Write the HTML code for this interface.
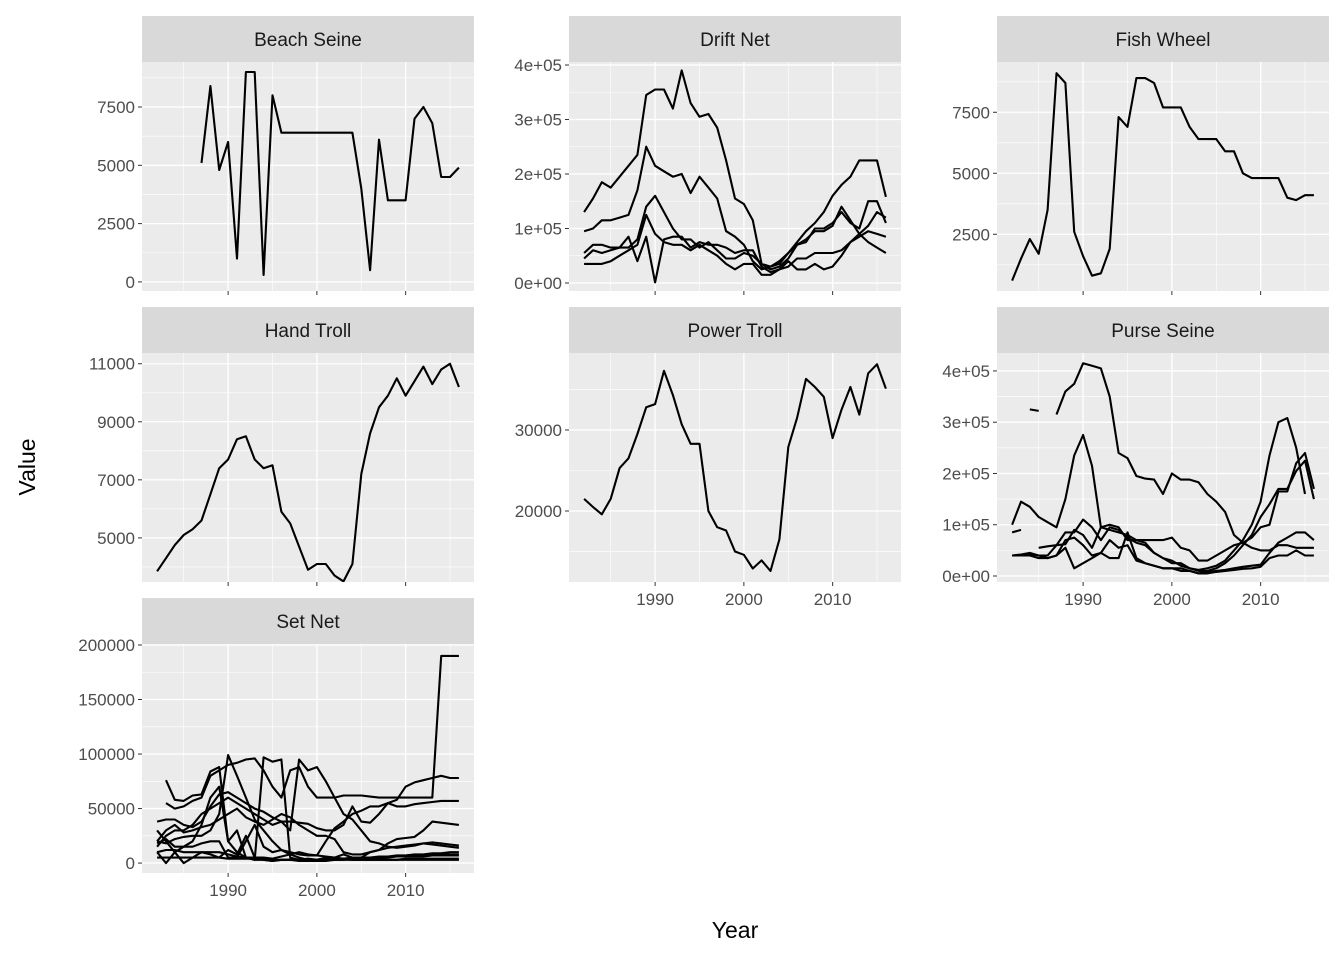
<!DOCTYPE html>
<html><head><meta charset="utf-8"><style>
html,body{margin:0;padding:0;background:#fff;}
svg{display:block;font-family:"Liberation Sans",Arial,sans-serif;}
</style></head><body>
<svg id="chart" width="1344" height="960" viewBox="0 0 1344 960">
<text x="735" y="938" font-size="23" text-anchor="middle" fill="#000">Year</text>
<text x="35" y="467" font-size="23" text-anchor="middle" fill="#000" transform="rotate(-90 35 467)">Value</text>
</svg>
<script>
const years = [];
for (let y = 1982; y <= 2016; y++) years.push(y);
const N = null;
const xTicks = [1990, 2000, 2010];
const xTickLabels = ["1990", "2000", "2010"];

const beachSeine = [[N,N,N,N,N,5100,8400,4800,6000,1000,9000,9000,300,8000,6400,6400,6400,6400,6400,6400,6400,6400,6400,4000,500,6100,3500,3500,3500,7000,7500,6800,4500,4500,4900]];
const driftNet = [
 [130000,155000,185000,175000,195000,215000,235000,345000,355000,355000,320000,390000,330000,305000,310000,285000,225000,155000,145000,115000,35000,30000,40000,55000,75000,95000,110000,130000,160000,180000,195000,225000,225000,225000,158000],
 [95000,100000,115000,115000,120000,125000,170000,250000,215000,205000,195000,200000,165000,195000,175000,155000,95000,85000,70000,40000,25000,30000,35000,55000,70000,80000,95000,95000,105000,140000,115000,90000,75000,65000,55000],
 [55000,70000,70000,65000,65000,65000,80000,140000,160000,130000,100000,80000,80000,65000,75000,60000,45000,45000,55000,50000,35000,25000,30000,45000,70000,75000,100000,100000,110000,130000,110000,100000,150000,150000,110000],
 [45000,60000,55000,60000,65000,85000,40000,85000,1000,80000,85000,85000,65000,75000,70000,70000,65000,55000,60000,60000,30000,20000,25000,30000,45000,45000,55000,55000,55000,60000,75000,90000,105000,130000,120000],
 [35000,35000,35000,40000,50000,60000,70000,125000,90000,75000,70000,70000,60000,70000,60000,50000,35000,25000,35000,35000,15000,15000,25000,40000,25000,25000,35000,25000,30000,50000,75000,85000,95000,90000,85000]
];
const fishWheel = [[600,1500,2300,1700,3500,9100,8700,2600,1600,800,900,1900,7300,6900,8900,8900,8700,7700,7700,7700,6900,6400,6400,6400,5900,5900,5000,4800,4800,4800,4800,4000,3900,4100,4100]];
const handTroll = [[3850,4300,4750,5100,5300,5600,6500,7400,7700,8400,8500,7700,7400,7500,5900,5500,4700,3900,4100,4100,3700,3500,4100,7200,8600,9500,9900,10500,9900,10400,10900,10300,10800,11000,10200]];
const powerTroll = [[21500,20500,19600,21500,25300,26500,29500,32800,33200,37300,34300,30700,28300,28300,20000,18000,17600,15000,14600,12900,13900,12600,16500,27900,31500,36300,35300,34100,29000,32500,35300,31900,37000,38100,35100]];
const purseSeine = [
 [N,N,325000,322000,N,315000,360000,375000,415000,410000,405000,350000,240000,230000,195000,190000,188000,160000,200000,188000,188000,183000,160000,145000,125000,80000,65000,55000,50000,50000,60000,60000,55000,55000,55000],
 [85000,90000,N,N,N,N,N,N,N,N,N,N,N,N,N,N,N,N,N,N,N,N,N,N,N,N,N,N,N,N,N,N,N,N,N],
 [100000,145000,135000,115000,105000,95000,150000,235000,275000,215000,95000,90000,85000,80000,70000,65000,45000,35000,25000,25000,15000,12000,15000,20000,30000,50000,70000,100000,145000,235000,300000,308000,250000,160000,N],
 [40000,42000,45000,40000,40000,60000,85000,85000,110000,95000,70000,95000,90000,75000,65000,60000,45000,35000,30000,20000,15000,10000,10000,15000,25000,40000,60000,80000,115000,140000,170000,170000,205000,225000,150000],
 [N,N,N,55000,58000,60000,62000,90000,80000,55000,95000,100000,95000,70000,70000,70000,70000,70000,75000,55000,50000,30000,30000,40000,50000,60000,65000,75000,95000,100000,165000,165000,220000,240000,170000],
 [40000,40000,42000,40000,35000,40000,55000,15000,25000,35000,45000,35000,35000,85000,35000,25000,20000,15000,15000,15000,10000,5000,8000,10000,12000,15000,18000,20000,22000,45000,65000,75000,85000,85000,70000],
 [40000,40000,40000,35000,35000,40000,70000,75000,60000,40000,45000,70000,55000,60000,30000,25000,20000,15000,15000,10000,10000,5000,5000,8000,10000,12000,14000,15000,18000,35000,40000,40000,50000,40000,40000]
];
const setNet = [
 [N,76000,58000,57000,62000,63000,84000,88000,20000,30000,5000,3000,3000,2000,3000,3000,3000,3000,3000,4000,4000,4000,5000,5000,5000,5000,6000,6000,6000,6000,6000,7000,7000,7000,7000],
 [N,55000,50000,52000,57000,60000,80000,85000,90000,92000,95000,96000,85000,70000,60000,85000,88000,70000,60000,60000,60000,62000,62000,62000,61000,60000,60000,60000,60000,60000,60000,60000,190000,190000,190000],
 [38000,40000,40000,35000,33000,38000,52000,63000,65000,60000,55000,50000,47000,42000,38000,38000,37000,36000,32000,30000,30000,35000,52000,38000,37000,45000,55000,58000,70000,74000,76000,78000,80000,78000,78000],
 [20000,18000,22000,24000,25000,25000,30000,45000,99000,80000,60000,40000,30000,20000,12000,10000,8000,7000,7000,20000,32000,38000,45000,48000,52000,52000,55000,52000,52000,54000,55000,56000,57000,57000,57000],
 [30000,20000,10000,15000,20000,35000,60000,70000,20000,10000,5000,3000,97000,93000,95000,5000,3000,4000,3000,5000,5000,8000,5000,5000,10000,12000,18000,22000,23000,24000,30000,38000,37000,36000,35000],
 [15000,25000,30000,30000,35000,45000,50000,55000,60000,55000,50000,45000,40000,35000,38000,30000,95000,85000,88000,75000,60000,45000,40000,30000,20000,18000,15000,14000,15000,16000,18000,17000,16000,15000,14000],
 [20000,30000,35000,28000,30000,33000,35000,40000,45000,50000,42000,38000,35000,40000,45000,42000,35000,30000,25000,25000,22000,10000,8000,8000,10000,12000,14000,15000,16000,17000,18000,19000,18000,17000,16000],
 [10000,0,10000,0,5000,10000,8000,5000,12000,8000,25000,5000,3000,2000,3000,3000,2000,2000,2000,3000,3000,4000,4000,5000,5000,6000,6000,7000,7000,8000,8000,9000,9000,10000,10000],
 [18000,22000,15000,15000,15000,18000,20000,20000,5000,5000,20000,35000,15000,10000,12000,8000,5000,3000,2000,2000,3000,3000,5000,5000,4000,4000,5000,6000,6000,7000,7000,8000,8000,8000,8000],
 [10000,12000,12000,10000,10000,10000,10000,10000,8000,6000,5000,5000,5000,4000,6000,8000,10000,8000,7000,6000,5000,4000,3000,3000,3000,3000,3000,3000,4000,4000,4000,4000,4000,4000,4000],
 [5000,5000,5000,5000,5000,5000,5000,5000,4000,4000,4000,4000,4000,3000,3000,3000,3000,3000,3000,3000,3000,3000,3000,3000,3000,3000,3000,3000,3000,3000,3000,3000,3000,3000,3000]
];

const bsTicks = [0,2500,5000,7500], bsLabels = ["0","2500","5000","7500"];
const dnTicks = [0,100000,200000,300000,400000], dnLabels = ["0e+00","1e+05","2e+05","3e+05","4e+05"];
const fwTicks = [2500,5000,7500], fwLabels = ["2500","5000","7500"];
const htTicks = [5000,7000,9000,11000], htLabels = ["5000","7000","9000","11000"];
const ptTicks = [20000,30000], ptLabels = ["20000","30000"];
const psTicks = [0,100000,200000,300000,400000], psLabels = ["0e+00","1e+05","2e+05","3e+05","4e+05"];
const snTicks = [0,50000,100000,150000,200000], snLabels = ["0","50000","100000","150000","200000"];

const NS = "http://www.w3.org/2000/svg";
const svg = document.getElementById("chart");
function mk(tag, attrs, parent) {
  const e = document.createElementNS(NS, tag);
  for (const k in attrs) e.setAttribute(k, attrs[k]);
  (parent || svg).appendChild(e);
  return e;
}
const colLeft = [142, 569, 997], rowTop = [16, 307, 598];
const PW = 332, SH = 46, PH = 229;
// y-scale domains (value at panel bottom, value at panel top)
const panels = [
  {name:"Beach Seine", slug:"beach-seine", c:0, r:0, data:beachSeine, ticks:bsTicks, labels:bsLabels, lo:-390, hi:9430, xlab:false},
  {name:"Drift Net", slug:"drift-net", c:1, r:0, data:driftNet, ticks:dnTicks, labels:dnLabels, lo:-14700, hi:405500, xlab:false},
  {name:"Fish Wheel", slug:"fish-wheel", c:2, r:0, data:fishWheel, ticks:fwTicks, labels:fwLabels, lo:175, hi:9560, xlab:false},
  {name:"Hand Troll", slug:"hand-troll", c:0, r:1, data:handTroll, ticks:htTicks, labels:htLabels, lo:3480, hi:11370, xlab:false},
  {name:"Power Troll", slug:"power-troll", c:1, r:1, data:powerTroll, ticks:ptTicks, labels:ptLabels, lo:11240, hi:39500, xlab:true},
  {name:"Purse Seine", slug:"purse-seine", c:2, r:1, data:purseSeine, ticks:psTicks, labels:psLabels, lo:-11700, hi:435000, xlab:true},
  {name:"Set Net", slug:"set-net", c:0, r:2, data:setNet, ticks:snTicks, labels:snLabels, lo:-9100, hi:200900, xlab:true}
];
const X0 = 1980.3, X1 = 2017.7;
panels.forEach(p => {
  const L = colLeft[p.c], ST = rowTop[p.r], T = ST + SH, B = T + PH;
  const g = mk("g", {});
  
  
  const xs = v => L + (v - X0) / (X1 - X0) * PW;
  const ys = v => B - (v - p.lo) / (p.hi - p.lo) * PH;
  const strip = mk("rect", {x:L, y:ST, width:PW, height:SH, fill:"#D9D9D9"}, g);
  
  
  const st = mk("text", {x:L+PW/2, y:ST+30, "font-size":"19", "text-anchor":"middle", fill:"#1A1A1A"}, g);
  st.textContent = p.name;
  
  
  const bg = mk("rect", {x:L, y:T, width:PW, height:PH, fill:"#EBEBEB"}, g);
  
  
  const cid = "clip-" + p.slug;
  const cp = mk("clipPath", {id:cid}, g);
  mk("rect", {x:L, y:T, width:PW, height:PH}, cp);
  const grid = mk("g", {"clip-path":"url(#"+cid+")"}, g);
  
  
  // minor y
  const step = p.ticks.length > 1 ? p.ticks[1] - p.ticks[0] : 10000;
  for (let v = p.ticks[0] - step/2; v <= p.ticks[p.ticks.length-1] + step; v += step) {
    mk("line", {x1:L, x2:L+PW, y1:ys(v), y2:ys(v), stroke:"#fff", "stroke-width":"0.6"}, grid);
  }
  [1985,1995,2005,2015].forEach(v => mk("line", {x1:xs(v), x2:xs(v), y1:T, y2:B, stroke:"#fff", "stroke-width":"0.6"}, grid));
  p.ticks.forEach(v => mk("line", {x1:L, x2:L+PW, y1:ys(v), y2:ys(v), stroke:"#fff", "stroke-width":"1.3"}, grid));
  xTicks.forEach(v => mk("line", {x1:xs(v), x2:xs(v), y1:T, y2:B, stroke:"#fff", "stroke-width":"1.3"}, grid));
  // y ticks
  p.ticks.forEach((v, i) => {
    mk("line", {x1:L-4, x2:L, y1:ys(v), y2:ys(v), stroke:"#333", "stroke-width":"1"}, g);
    const t = mk("text", {x:L-7, y:ys(v)+6, "font-size":"17", "text-anchor":"end", fill:"#4D4D4D"}, g);
    t.textContent = p.labels[i];
    
    
  });
  xTicks.forEach((v, i) => {
    mk("line", {x1:xs(v), x2:xs(v), y1:B, y2:B+4, stroke:"#333", "stroke-width":"1"}, g);
    if (p.xlab) {
      const t = mk("text", {x:xs(v), y:B+23, "font-size":"17", "text-anchor":"middle", fill:"#4D4D4D"}, g);
      t.textContent = xTickLabels[i];
      
      
    }
  });
  const lines = mk("g", {"clip-path":"url(#"+cid+")"}, g);
  p.data.forEach((ser, si) => {
    let d = "", pen = false;
    ser.forEach((v, i) => {
      if (v === null) { pen = false; return; }
      d += (pen ? "L" : "M") + xs(years[i]).toFixed(1) + " " + ys(v).toFixed(1);
      pen = true;
    });
    const path = mk("path", {d:d, fill:"none", stroke:"#000", "stroke-width":"2.1", "stroke-linejoin":"round"}, lines);
    
    
  });
});
</script>
</body></html>
